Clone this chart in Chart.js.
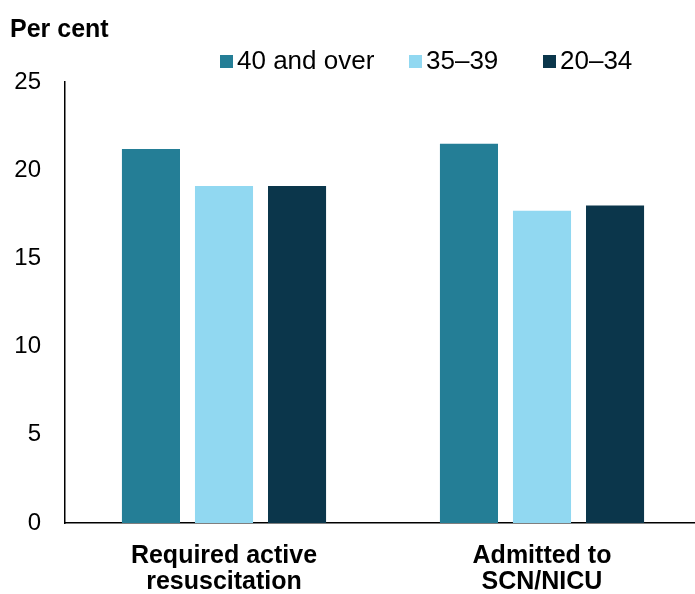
<!DOCTYPE html>
<html>
<head>
<meta charset="utf-8">
<script src="https://cdn.jsdelivr.net/npm/chart.js@4"></script>
<style>
  html, body { margin: 0; padding: 0; background: #fff; }
  #wrap { position: relative; width: 695px; height: 594px; }
</style>
</head>
<body>
<div id="wrap"><canvas id="babyChart" width="695" height="594"></canvas></div>
<script>
// categories and series
const categories = [['Required active', 'resuscitation'], ['Admitted to', 'SCN/NICU']];
const seriesNames = ['40 and over', '35\u201339', '20\u201334'];
const age40plus = [21.2, 21.5];
const age35to39 = [19.1, 17.7];
const age20to34 = [19.1, 18.0];
const yTicks = [0, 5, 10, 15, 20, 25];

const colours = ['#247E96', '#91D8F1', '#0B364B'];
const FONT = "'Liberation Sans', Arial, sans-serif";

// draws the "Per cent" label and the legend where the original has them
const headerPlugin = {
  id: 'header',
  afterLayout(chart) {
    // the original plot runs a few px past the right edge of the picture
    const x = chart.scales.x;
    x.right += 6;
    x.width += 6;
    x.configure();
  },
  afterDraw(chart) {
    const ctx = chart.ctx;
    ctx.save();
    ctx.fillStyle = '#000';
    ctx.textBaseline = 'middle';
    ctx.textAlign = 'left';
    ctx.font = 'bold 25px ' + FONT;
    ctx.fillText('Per cent', 10, 30);

    const itemX = [220, 409, 543];
    ctx.font = '26px ' + FONT;
    chart.data.datasets.forEach((ds, i) => {
      ctx.fillStyle = ds.backgroundColor;
      ctx.fillRect(itemX[i], 55, 13, 13);
      ctx.fillStyle = '#000';
      ctx.fillText(ds.label, itemX[i] + 17, 62);
    });
    ctx.restore();
  }
};

new Chart(document.getElementById('babyChart'), {
  type: 'bar',
  data: {
    labels: categories,
    datasets: [
      { label: seriesNames[0], data: age40plus, backgroundColor: colours[0] },
      { label: seriesNames[1], data: age35to39, backgroundColor: colours[1] },
      { label: seriesNames[2], data: age20to34, backgroundColor: colours[2] }
    ]
  },
  options: {
    responsive: false,
    animation: false,
    categoryPercentage: 0.689,
    barPercentage: 0.795,
    layout: { padding: { top: 82, left: 10, right: 0, bottom: 0 } },
    plugins: {
      legend: { display: false },
      title: { display: false },
      tooltip: { enabled: false }
    },
    scales: {
      x: {
        grid: { display: false, drawTicks: false },
        border: { display: true, color: '#000', width: 1.5 },
        ticks: {
          color: '#000',
          padding: 20,
          maxRotation: 0,
          font: { family: FONT, size: 25, weight: 'bold', lineHeight: 1.05 }
        },
        afterFit: s => { s.height = 71; }
      },
      y: {
        min: 0,
        max: 25,
        afterBuildTicks: s => { s.ticks = yTicks.map(v => ({ value: v })); },
        grid: { display: false, drawTicks: false },
        border: { display: true, color: '#000', width: 1.5 },
        ticks: {
          color: '#000',
          padding: 24,
          font: { family: FONT, size: 24 }
        },
        afterFit: s => { s.width = 55; }
      }
    }
  },
  plugins: [headerPlugin]
});
</script>
</body>
</html>
